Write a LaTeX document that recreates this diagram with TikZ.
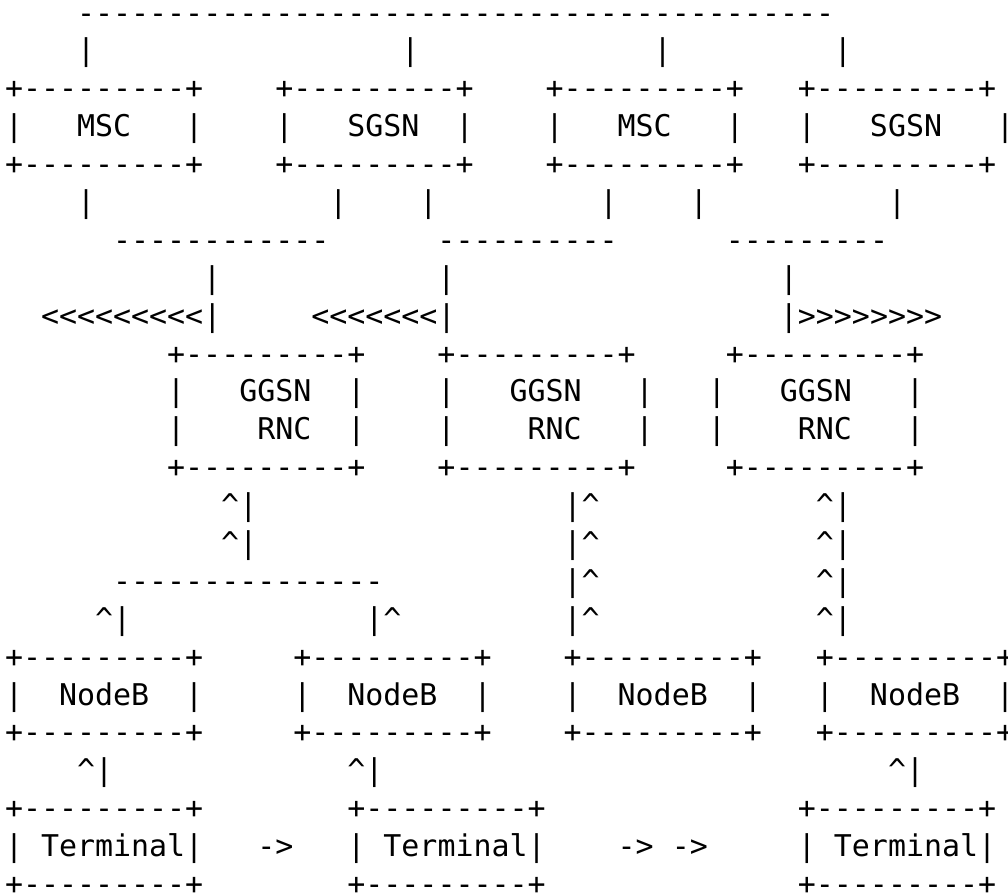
\documentclass[tikz,border=0pt]{standalone}
\usepackage{fontspec}
\setmonofont{DejaVu Sans Mono}
\tikzset{
    ascii/.style={inner sep=0pt, outer sep=0pt, anchor=base west,
        font=\ttfamily\fontsize{14.97pt}{18pt}\selectfont},
}
\newcommand{\edge}{+---------+}
\newcommand{\up}{\textasciicircum}

\begin{document}
\begin{tikzpicture}[x=9.01pt, y=-18.945pt]
\useasboundingbox (-0.2775,0.393) rectangle (55.66,23.935);
\node[ascii] (bus) at (4,1) {------------------------------------------};
\foreach \c [count=\i] in {4,22,36,46} {
\node[ascii] (drop\i) at (\c,2) {|};
}
\foreach \c/\name/\t/\r in {0/msca/MSC/10, 15/sgsna/SGSN/10, 30/mscb/MSC/10, 44/sgsnb/SGSN/11} {
\node[ascii] (\name-top) at (\c,3) {\edge};
\node[ascii] (\name-l) at (\c,4) {|};
\node[ascii] (\name) at (\c+4,4) {\t};
\node[ascii] (\name-r) at (\c+\r,4) {|};
\node[ascii] (\name-bot) at (\c,5) {\edge};
}
\foreach \c [count=\i] in {4,18,23,33,38,49} {
\node[ascii] (leg\i) at (\c,6) {|};
}
\node[ascii] (joina) at (6,7) {------------};
\node[ascii] (joinb) at (24,7) {----------};
\node[ascii] (joinc) at (40,7) {---------};
\foreach \c [count=\i] in {11,24,43} {
\node[ascii] (stem\i) at (\c,8) {|};
}
\node[ascii] (lefta) at (2,9) {<<<<<<<<<|};
\node[ascii] (leftb) at (17,9) {<<<<<<<|};
\node[ascii] (right) at (43,9) {|>>>>>>>>};
\foreach \c/\name/\l/\r in {9/gwa/9/19, 24/gwb/24/35, 40/gwc/39/50} {
\node[ascii] (\name-top) at (\c,10) {\edge};
\node[ascii] (\name-l1) at (\l,11) {|};
\node[ascii] (\name) at (\l+4,11) {GGSN};
\node[ascii] (\name-r1) at (\r,11) {|};
\node[ascii] (\name-l2) at (\l,12) {|};
\node[ascii] (\name-rnc) at (\l+5,12) {RNC};
\node[ascii] (\name-r2) at (\r,12) {|};
\node[ascii] (\name-bot) at (\c,13) {\edge};
}
\foreach \r in {14,15} {
\node[ascii] (upa\r) at (12,\r) {\up|};
}
\foreach \r in {14,...,17} {
\node[ascii] (upb\r) at (31,\r) {|\up};
\node[ascii] (upc\r) at (45,\r) {\up|};
}
\node[ascii] (split) at (6,16) {---------------};
\node[ascii] (upd) at (5,17) {\up|};
\node[ascii] (upe) at (20,17) {|\up};
\foreach \c [count=\i] in {0,16,31,45} {
\node[ascii] (nb\i-top) at (\c,18) {\edge};
\node[ascii] (nb\i-l) at (\c,19) {|};
\node[ascii] (nb\i) at (\c+3,19) {NodeB};
\node[ascii] (nb\i-r) at (\c+10,19) {|};
\node[ascii] (nb\i-bot) at (\c,20) {\edge};
}
\foreach \c [count=\i] in {4,19,49} {
\node[ascii] (att\i) at (\c,21) {\up|};
}
\foreach \c [count=\i] in {0,19,44} {
\node[ascii] (ue\i-top) at (\c,22) {\edge};
\node[ascii] (ue\i-l) at (\c,23) {|};
\node[ascii] (ue\i) at (\c+2,23) {Terminal};
\node[ascii] (ue\i-r) at (\c+10,23) {|};
\node[ascii] (ue\i-bot) at (\c,24) {\edge};
}
\node[ascii] (move1) at (14,23) {->};
\node[ascii] (move2) at (34,23) {->};
\node[ascii] (move3) at (37,23) {->};
\end{tikzpicture}
\end{document}
